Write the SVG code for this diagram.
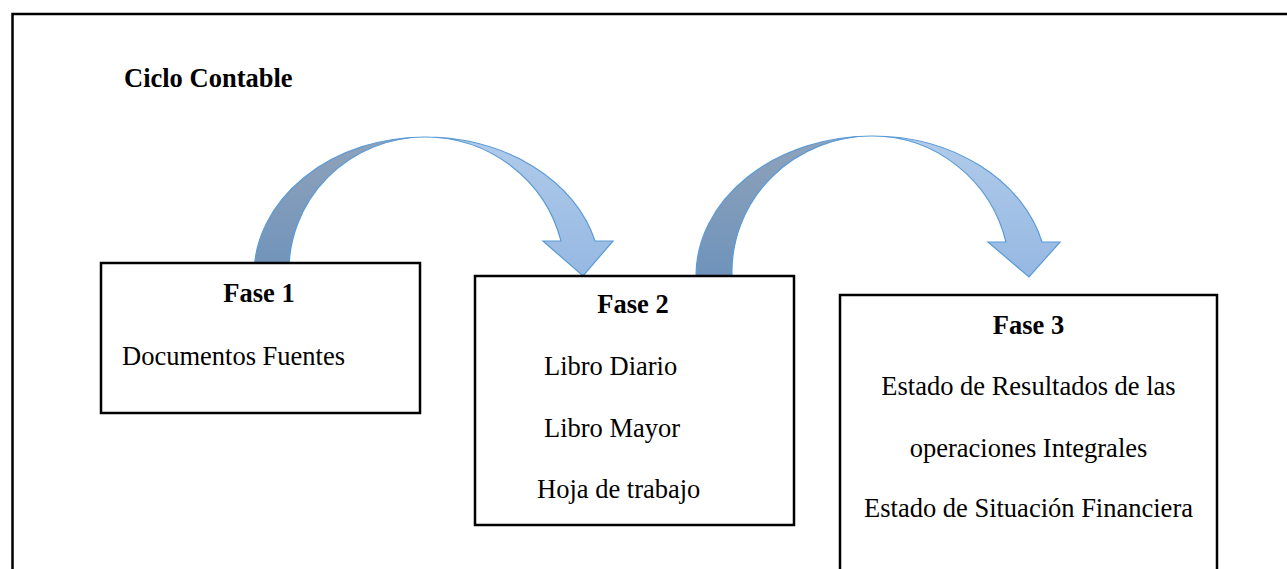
<svg xmlns="http://www.w3.org/2000/svg" width="1287" height="569" viewBox="0 0 1287 569">
<style>
.box{fill:#fff;stroke:#000;stroke-width:2.5}
.t{font-family:"Liberation Serif","Times New Roman",serif;font-size:26.5px;fill:#000}
.b{font-weight:bold}
.dark{fill:url(#gDark);stroke:#5b9bd5;stroke-width:1.2}
.light{fill:url(#gLight);stroke:#5b9bd5;stroke-width:1.2}
</style>
<defs>
<linearGradient id="gDark" x1="0" y1="0" x2="0" y2="1">
<stop offset="0" stop-color="#8fa2ba"/>
<stop offset="1" stop-color="#6f93bb"/>
</linearGradient>
<linearGradient id="gLight" x1="0" y1="0" x2="0" y2="1">
<stop offset="0" stop-color="#b0cbea"/>
<stop offset="1" stop-color="#96b8e2"/>
</linearGradient>
</defs>
<rect width="1287" height="569" fill="#fff"/>
<path d="M12.5,600 V14 H1290" fill="none" stroke="#000" stroke-width="2.5"/>
<text class="t b" x="124" y="87">Ciclo Contable</text>
<g id="connectors">
<g id="arrow1">
<path class="dark" d="M254,275 A171,138 0 0 1 425,137 A136,134 0 0 0 289,275 Z"/>
<path class="light" d="M425,137 A176,138 0 0 1 595,241 L613,241 L583,276 L543,241 L561,241 A140,138 0 0 0 425,137 Z"/>
</g>
<g id="arrow2">
<path class="dark" d="M696,276 A176,140 0 0 1 872,136 A140,136 0 0 0 732,276 Z"/>
<path class="light" d="M872,136 A175,140 0 0 1 1042,242 L1060,242 L1029,277 L988,242 L1006,242 A138,140 0 0 0 872,136 Z"/>
</g>
</g>
<g id="node1">
<rect class="box" x="101" y="263" width="319" height="150"/>
<text class="t b" x="259" y="302" text-anchor="middle">Fase 1</text>
<text class="t" x="122" y="365">Documentos Fuentes</text>
</g>
<g id="node2">
<rect class="box" x="475" y="276" width="319" height="249"/>
<text class="t b" x="633" y="313" text-anchor="middle">Fase 2</text>
<text class="t" x="544" y="375">Libro Diario</text>
<text class="t" x="544" y="437">Libro Mayor</text>
<text class="t" x="537" y="498">Hoja de trabajo</text>
</g>
<g id="node3">
<rect class="box" x="840" y="295" width="377" height="300"/>
<text class="t b" x="1028.5" y="334" text-anchor="middle">Fase 3</text>
<text class="t" x="1028.5" y="395" text-anchor="middle">Estado de Resultados de las</text>
<text class="t" x="1028.5" y="457" text-anchor="middle">operaciones Integrales</text>
<text class="t" x="1028.5" y="517" text-anchor="middle">Estado de Situación Financiera</text>
</g>
</svg>
